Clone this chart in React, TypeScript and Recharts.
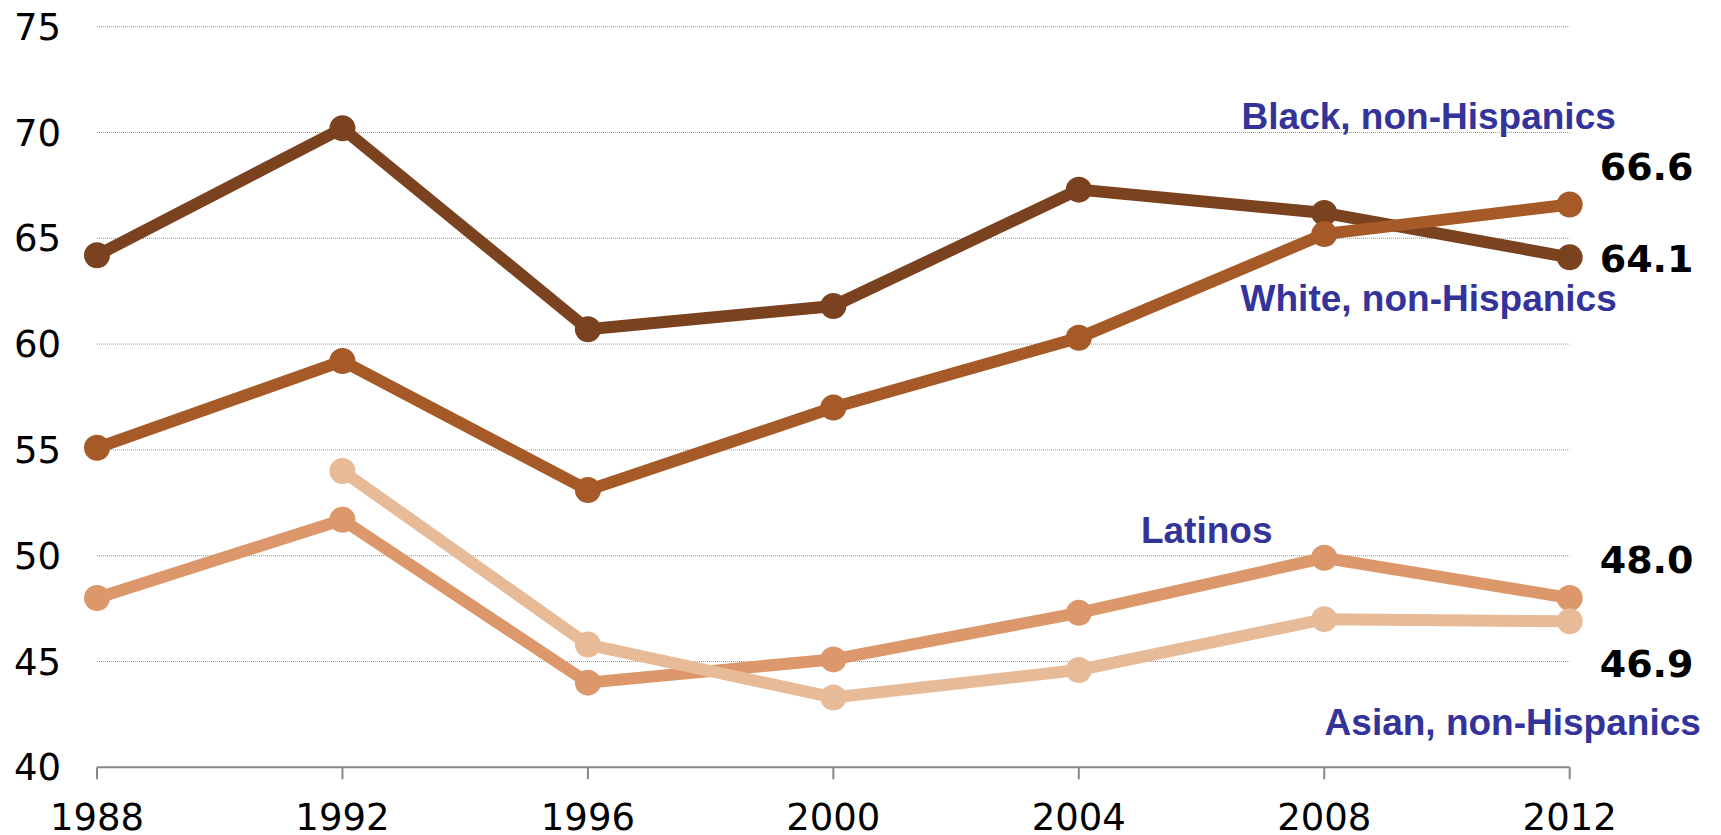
import React from 'react';
import { LineChart, Line, XAxis, YAxis, CartesianGrid, LabelList } from 'recharts';

const years = [1988, 1992, 1996, 2000, 2004, 2008, 2012];
const black = [64.2, 70.2, 60.7, 61.8, 67.3, 66.2, 64.1];
const white = [55.1, 59.2, 53.1, 57.0, 60.3, 65.2, 66.6];
const latinos = [48.0, 51.7, 44.0, 45.1, 47.3, 49.9, 48.0];
const asian = [null, 54.0, 45.8, 43.3, 44.6, 47.0, 46.9];
const yTicks = [40, 45, 50, 55, 60, 65, 70, 75];

const data = years.map((y, i) => ({ year: y, black: black[i], white: white[i], latinos: latinos[i], asian: asian[i] }));

const LABEL_COLOR = '#333399';
const NUM_FONT = '"DejaVu Sans", Verdana, sans-serif';
const NAME_FONT = '"Liberation Sans", Arial, sans-serif';

const makeEndLabel = (name: string, numDy: number, nameDx: number, nameDy: number) => (props: any) => {
  const { x, y, value, index } = props;
  if (index !== years.length - 1 || value == null) return null;
  return (
    <g>
      <text x={x + 30} y={y + numDy} fontFamily={NUM_FONT} fontWeight="bold" fontSize={38} fill="#000" textAnchor="start">
        {Number(value).toFixed(1)}
      </text>
      <text x={x + nameDx} y={y + nameDy} fontFamily={NAME_FONT} fontWeight="bold" fontSize={37} fill={LABEL_COLOR} textAnchor="middle">
        {name}
      </text>
    </g>
  );
};

const series = [
  { key: 'black', color: '#7B4220', name: 'Black, non-Hispanics', numDy: 15, nameDx: -141, nameDy: -128 },
  { key: 'white', color: '#A55A27', name: 'White, non-Hispanics', numDy: -24, nameDx: -141, nameDy: 107 },
  { key: 'latinos', color: '#DC986A', name: 'Latinos', numDy: -25, nameDx: -363, nameDy: -55 },
  { key: 'asian', color: '#E8BB98', name: 'Asian, non-Hispanics', numDy: 56, nameDx: -57, nameDy: 114 },
];

export default function App() {
  return (
    <div style={{ position: 'absolute', left: 0, top: 0, width: 1721, height: 835, background: '#fff' }}>
      <LineChart width={1721} height={835} data={data} margin={{ top: 26.7, right: 151.3, bottom: 0, left: 0 }}>
        <CartesianGrid horizontal vertical={false} stroke="#999" strokeDasharray="1 1" />
        <XAxis
          dataKey="year"
          type="number"
          domain={[1988, 2012]}
          ticks={years}
          height={67.7}
          stroke="#888"
          strokeWidth={2}
          tickSize={12}
          tickMargin={24}
          tick={{ fill: '#000', fontSize: 37, fontFamily: NUM_FONT }}
        />
        <YAxis
          type="number"
          domain={[40, 75]}
          ticks={yTicks}
          width={97}
          axisLine={false}
          tickLine={false}
          tickSize={0}
          tickMargin={36}
          tick={{ fill: '#000', fontSize: 37, fontFamily: NUM_FONT }}
        />
        {series.map((s) => (
          <Line
            key={s.key}
            dataKey={s.key}
            stroke={s.color}
            strokeWidth={12}
            dot={{ r: 13, fill: s.color, stroke: 'none' }}
            activeDot={false}
            isAnimationActive={false}
          >
            <LabelList dataKey={s.key} content={makeEndLabel(s.name, s.numDy, s.nameDx, s.nameDy)} />
          </Line>
        ))}
      </LineChart>
    </div>
  );
}
